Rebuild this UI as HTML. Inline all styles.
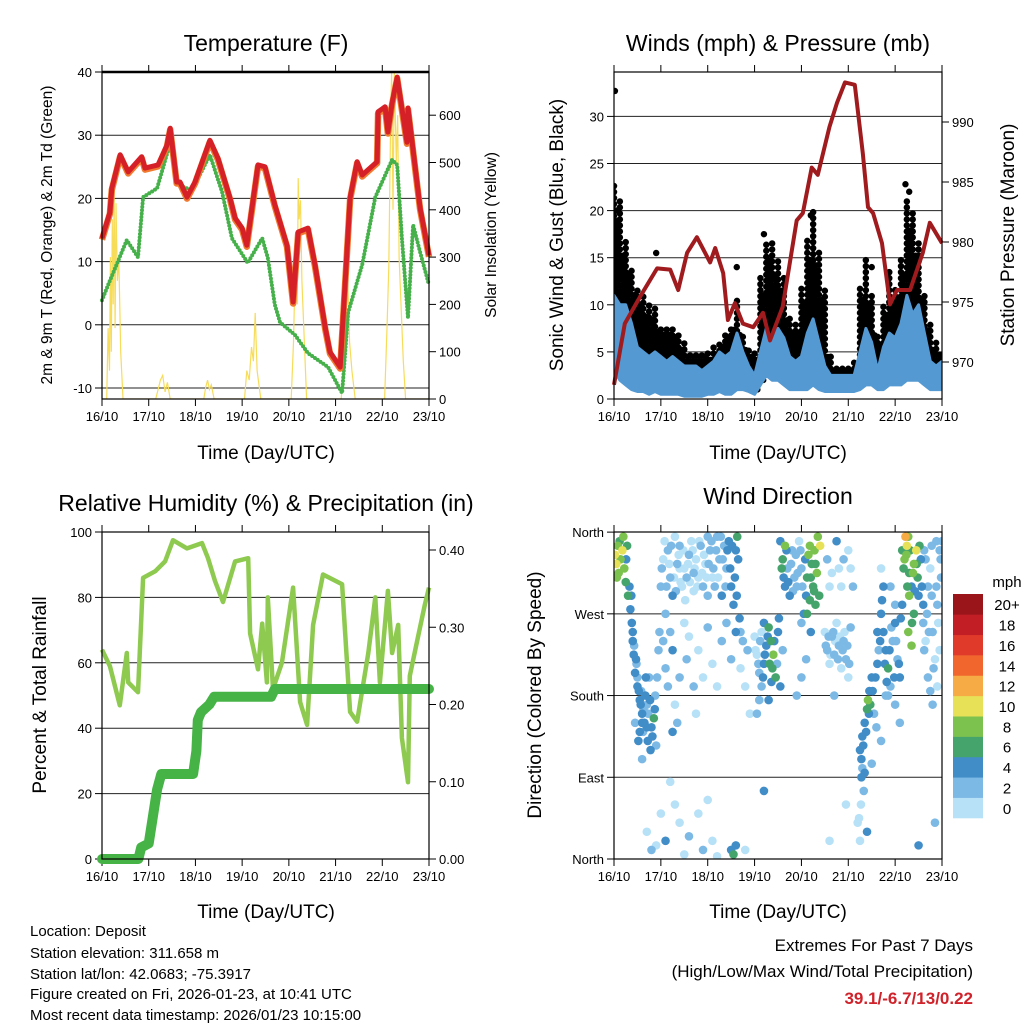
<!DOCTYPE html>
<html><head><meta charset="utf-8"><style>
html,body{margin:0;padding:0;background:#fff;}
svg{display:block;font-family:"Liberation Sans",Arial,sans-serif;}
</style></head><body>
<svg id="fig" width="1024" height="1024" viewBox="0 0 1024 1024" xmlns="http://www.w3.org/2000/svg">
<rect x="0" y="0" width="1024" height="1024" fill="#fff"/>
<text x="266" y="51" font-size="23" text-anchor="middle">Temperature (F)</text>
<text x="778" y="51" font-size="23" text-anchor="middle">Winds (mph) &amp; Pressure (mb)</text>
<text x="266" y="511" font-size="23" text-anchor="middle">Relative Humidity (%) &amp; Precipitation (in)</text>
<text x="778" y="504" font-size="23" text-anchor="middle">Wind Direction</text>
<text x="266" y="459" font-size="19" text-anchor="middle">Time (Day/UTC)</text>
<text x="778" y="459" font-size="19" text-anchor="middle">Time (Day/UTC)</text>
<text x="266" y="918" font-size="19" text-anchor="middle">Time (Day/UTC)</text>
<text x="778" y="918" font-size="19" text-anchor="middle">Time (Day/UTC)</text>
<text transform="translate(52,235) rotate(-90)" font-size="15.5" text-anchor="middle">2m &amp; 9m T (Red, Orange) &amp; 2m Td (Green)</text>
<text transform="translate(496,235) rotate(-90)" font-size="15.5" text-anchor="middle">Solar Insolation (Yellow)</text>
<text transform="translate(563,235) rotate(-90)" font-size="19" text-anchor="middle">Sonic Wind &amp; Gust (Blue, Black)</text>
<text transform="translate(1014,235) rotate(-90)" font-size="19" text-anchor="middle">Station Pressure (Maroon)</text>
<text transform="translate(46,695) rotate(-90)" font-size="19" text-anchor="middle">Percent &amp; Total Rainfall</text>
<text transform="translate(541,695) rotate(-90)" font-size="19" text-anchor="middle">Direction (Colored By Speed)</text>
<g font-size="15">
<text x="30" y="936">Location: Deposit</text>
<text x="30" y="958">Station elevation: 311.658 m</text>
<text x="30" y="979">Station lat/lon: 42.0683; -75.3917</text>
<text x="30" y="999">Figure created on Fri, 2026-01-23, at 10:41 UTC</text>
<text x="30" y="1020">Most recent data timestamp: 2026/01/23 10:15:00</text>
</g>
<text x="973" y="951" font-size="17" text-anchor="end">Extremes For Past 7 Days</text>
<text x="973" y="977" font-size="17" text-anchor="end">(High/Low/Max Wind/Total Precipitation)</text>
<text x="973" y="1004" font-size="17" font-weight="bold" fill="#d0222a" text-anchor="end">39.1/-6.7/13/0.22</text>
<text x="1007" y="587" font-size="15" text-anchor="middle">mph</text>
</svg>
<script>
// ---------- data ----------
const dayLabels = ['16/10','17/10','18/10','19/10','20/10','21/10','22/10','23/10'];
const tempTicks = [-10,0,10,20,30,40];
const solarTicks = [0,100,200,300,400,500,600];
const windTicks = [0,5,10,15,20,25,30];
const pressTicks = [970,975,980,985,990];
const rhTicks = [0,20,40,60,80,100];
const rainTicks = [0,0.1,0.2,0.3,0.4];
const dirTicks = [0,90,180,270,360];
const dirNames = ['North','East','South','West','North'];
const speedBins = ['0','2','4','6','8','10','12','14','16','18','20+'];
const speedColors = ['#b6e1f7','#7db9e5','#418dc8','#45a46c','#7cc24e','#e6e157','#f7ab45','#f0662d','#e03a2b','#c11e26','#991519'];

const tempTime = [0,0.17,0.21,0.39,0.56,0.85,0.92,1.2,1.39,1.46,1.6,1.67,1.82,1.99,2.31,2.48,2.74,2.85,3.0,3.1,3.21,3.34,3.49,3.7,3.96,4.09,4.2,4.41,4.56,4.78,4.88,5.1,5.31,5.46,5.57,5.89,5.91,6.06,6.12,6.21,6.32,6.53,6.55,6.81,7.0];
const tempValue = [13.7,17.8,21.6,26.9,24.2,26.6,24.8,25.3,28.4,31.1,22.6,22.6,20.2,22.6,29.2,26.4,20.1,16.9,15.3,12.6,18.5,25.3,25,19,12.6,3.6,14.7,15.3,9.5,-0.5,-4.3,-6.7,20.1,25.8,23.7,25.8,33.7,34.5,30.5,35.1,39.2,28.9,34.3,18.5,11];
const dewTime = [0,0.13,0.53,0.77,0.88,1.18,1.46,1.63,1.93,2.31,2.57,2.78,3.12,3.43,3.55,3.7,3.81,4.13,4.41,4.84,5.14,5.27,5.57,5.85,6.21,6.32,6.42,6.55,6.66,6.81,7.0];
const dewValue = [3.9,6.3,13.4,10.7,20.2,21.6,28.8,22.1,21.3,26.9,21,13.7,9.8,13.7,10.6,3.2,0.4,-1.6,-4.5,-6.7,-10.8,2,9.5,20.2,26.1,25.3,13.7,1.1,15.8,11.5,6.3];
const solarTime = [0,0.1,0.13,0.16,0.18,0.2,0.22,0.24,0.26,0.28,0.3,0.33,0.36,0.4,0.45,1.15,1.2,1.25,1.3,1.35,1.4,1.46,2.18,2.22,2.26,2.3,2.34,2.4,3.05,3.1,3.15,3.2,3.24,3.28,3.32,3.4,4.05,4.1,4.14,4.18,4.2,4.22,4.25,4.28,4.32,4.38,5.12,5.18,5.22,5.26,5.3,5.35,5.42,6.05,6.1,6.14,6.18,6.2,6.23,6.26,6.3,6.33,6.36,6.4,6.45,6.5,7.0];
const solarValue = [0,0,150,60,300,100,380,200,446,150,414,250,300,100,0,0,20,40,50,15,35,0,0,25,40,20,30,0,0,60,40,110,80,182,60,0,0,120,300,200,467,380,420,250,150,0,0,80,180,250,120,60,0,0,150,280,600,690,400,690,500,600,300,200,80,0,0];

const windHigh = [11,10,10,8,5.5,5,4.5,5,4.5,4,4.5,4,3.5,3.5,3.5,3,3.5,4,5,4.5,5,7,5,3.5,2.5,5,7.5,6,7.5,6.5,4.5,4,4.5,7,8.5,6,3.5,2.5,2.5,2.5,2.5,2.5,5,7.5,6,3,5.5,7,6.5,8,11,9,10,7,4,3.5,4];
const windLow = [3,2,1.5,1,0.8,0.8,0.5,0.8,0.5,0.5,0.5,0.5,0.3,0.3,0.3,0.3,0.5,0.5,0.8,0.5,0.5,1,1,0.8,0.5,1.5,2.5,2,2,1.5,1,1,1,1,1.5,1,0.8,0.8,0.8,0.8,0.8,0.8,1,1.5,1.5,1,1,1.5,1.5,1.5,2,2,2,1.5,1,1,1];
const gustHigh = [23,21,17,14,12,11,10,10,8,8,8,7,6,5,5,5,5,5.5,6,7,8,11,7,5.5,5,13,17,17,15,13,9,8,12,17,20,16,12,5,3.5,3.5,3.5,4,12,15,11,7,10,14,12,15,21,20,17,11,8,6,5];
const gustOutTime = [0.02,0.9,6.22,6.3,0.05,2.62,3.2,4.2,5.5];
const gustOutValue = [32.7,15.5,22.8,22,20,14,17.5,19.5,14];
const pressTime = [0,0.23,0.55,0.92,1.2,1.37,1.56,1.77,2.05,2.16,2.33,2.43,2.58,2.75,2.97,3.18,3.33,3.6,3.9,4.03,4.22,4.35,4.6,4.76,4.93,5.14,5.31,5.42,5.53,5.72,5.89,6.04,6.32,6.59,6.74,7.0];
const pressValue = [968.1,973.2,975.4,977.8,977.7,976,979.1,980.4,978.3,979.5,977.4,973.5,974.9,973.2,972.9,974.1,971.8,974.6,981.8,982.4,986.2,985.6,989.6,991.6,993.3,993.1,987.4,982.9,982.4,979.9,974.8,976,976,979.1,981.6,979.9];

const rhTime = [0,0.17,0.38,0.53,0.56,0.77,0.88,1.14,1.35,1.52,1.82,2.14,2.27,2.42,2.59,2.85,3.13,3.17,3.34,3.43,3.53,3.55,3.66,3.85,4.09,4.24,4.39,4.52,4.73,5.14,5.31,5.46,5.7,5.85,5.95,6.12,6.21,6.34,6.42,6.55,6.59,6.76,6.91,7.0];
const rhValue = [64,59,47,63,54,51,86,88,91,97.5,95,96.6,92,85,78.6,91,92,69,58,72,54,80,52,60,83,48,41,71.6,87,84,45,42,63,80,54,82,63,71.6,37,23.5,56,67.6,77.7,83];
const rainTime = [0,0.78,0.84,1.0,1.05,1.18,1.27,1.95,2.02,2.05,2.12,2.3,2.4,3.62,3.7,7.0];
const rainValue = [0,0,0.015,0.02,0.04,0.09,0.11,0.11,0.14,0.18,0.19,0.2,0.21,0.21,0.22,0.22];

const wdDay = [0.02,0.05,0.08,0.1,0.14,0.18,0.22,0.25,0.28,0.3,0.33,0.12,0.2,0.26,0.06,
0.38,0.4,0.42,0.45,0.5,0.55,0.6,0.62,0.65,0.7,0.72,0.75,0.8,0.85,0.9,0.48,0.58,0.68,0.78,0.88,0.95,0.52,0.6,
1.0,1.05,1.1,1.15,1.2,1.25,1.3,1.35,1.4,1.45,1.5,1.55,1.6,1.65,1.7,1.75,1.8,1.85,1.9,1.95,2.0,2.05,2.1,2.15,2.2,2.25,2.3,2.35,2.4,2.45,2.5,2.55,2.6,2.63,1.4,1.7,2.0,
1.05,1.1,1.15,1.2,1.25,1.3,1.4,1.5,1.55,1.6,1.7,1.75,1.8,1.9,2.0,2.1,2.2,2.3,2.4,2.5,2.6,2.7,2.8,2.85,2.9,1.35,1.25,
0.7,0.8,1.0,1.1,1.3,1.4,1.5,1.6,1.8,1.9,2.0,2.1,2.2,2.5,2.55,2.6,3.2,2.8,1.2,0.9,
3.0,3.05,3.1,3.15,3.2,3.25,3.3,3.35,3.38,3.4,3.45,3.5,3.55,3.3,3.2,3.1,3.05,3.6,
3.55,3.6,3.65,3.7,3.75,3.8,3.85,3.9,3.95,4.0,4.1,4.15,4.2,4.25,4.28,4.3,4.35,4.4,4.3,3.65,3.58,4.05,4.2,4.1,4.0,3.9,
4.5,4.55,4.6,4.65,4.7,4.75,4.8,4.85,4.9,4.95,5.0,5.05,4.6,4.8,5.0,4.7,4.9,5.1,4.75,
5.25,5.3,5.35,5.4,5.42,5.45,5.5,5.55,5.6,5.3,5.35,5.2,5.25,5.4,5.5,5.7,
5.7,5.75,5.8,5.85,5.9,5.95,6.0,6.05,6.1,6.15,5.8,6.1,6.0,5.65,5.7,5.75,
6.15,6.2,6.22,6.25,6.3,6.35,6.4,6.45,6.48,6.5,6.55,6.6,6.3,6.35,6.28,6.4,
6.6,6.65,6.7,6.75,6.8,6.85,6.9,6.95,6.98,6.9,6.7,6.5,6.85,6.8,6.95,7.0];
const wdDir = [335,325,345,315,330,340,320,305,345,290,300,350,355,330,310,
260,240,225,205,190,175,160,140,150,170,130,200,145,155,125,215,185,200,120,180,230,130,110,
300,330,270,340,310,290,355,325,345,300,320,310,335,350,295,330,310,345,300,325,355,340,310,300,355,330,290,345,320,350,300,280,340,355,320,315,290,
240,210,190,250,230,170,200,260,220,245,190,160,230,200,255,215,190,240,260,220,250,210,190,230,160,150,140,
30,10,50,20,60,40,5,25,50,10,65,20,3,10,5,15,75,10,85,15,
245,225,205,190,215,235,255,240,210,225,200,250,190,175,260,175,160,230,
350,330,300,320,290,340,310,300,350,320,290,335,310,300,340,325,355,345,280,345,320,270,250,220,200,180,
250,230,215,245,225,260,235,210,240,220,200,255,300,320,340,180,330,300,350,
120,135,150,165,175,185,200,160,145,100,95,40,20,30,105,130,
270,250,230,210,190,240,260,220,200,280,180,150,170,230,320,300,
340,330,355,345,315,300,325,340,310,290,330,280,290,235,250,270,
260,240,300,320,250,220,280,340,310,190,200,15,40,170,230,350];
const wdSpeed = [10,10,8,9,8,10,8,6,6,6,4,6,8,4,8,
4,4,4,4,4,4,4,2,4,2,4,2,4,6,2,2,2,4,4,2,2,4,2,
2,0,2,2,2,4,0,2,2,0,0,2,2,0,0,0,0,2,2,0,2,2,0,2,2,2,4,2,2,4,4,4,4,6,0,2,2,
2,2,2,2,4,0,2,0,2,0,2,0,0,0,2,0,0,2,2,2,4,0,0,2,0,2,4,
0,2,0,4,0,0,0,2,0,2,0,0,0,4,6,4,4,0,0,0,
0,0,2,2,4,4,6,6,6,8,6,4,4,4,4,2,2,2,
4,6,4,2,4,2,2,2,0,2,4,8,6,6,8,6,8,10,6,8,6,4,4,2,2,2,
0,2,0,2,2,0,2,0,2,2,0,2,0,0,0,2,2,2,4,
4,4,4,6,8,4,4,2,2,2,4,0,0,4,2,2,
4,4,4,6,2,2,4,2,4,4,2,2,2,2,0,4,
6,8,12,10,6,4,8,10,6,4,4,4,8,8,8,6,
2,0,2,0,2,0,2,2,2,0,2,4,2,2,0,2];
// additional wind direction observations
const wdDayB = [0.4,0.43,0.47,0.5,0.53,0.57,0.6,0.63,0.67,0.7,0.73,0.77,0.82,0.87,0.92,0.97,0.35,0.37,0.45,0.55,
1.02,1.08,1.12,1.18,1.22,1.28,1.32,1.38,1.42,1.48,1.52,1.58,1.62,1.68,1.72,1.78,1.82,1.88,1.92,1.98,2.02,2.08,2.12,2.18,2.22,2.28,2.32,2.38,2.42,2.48,2.52,2.58,2.62,2.65,2.68,2.7,2.75,
3.02,3.08,3.12,3.18,3.22,3.28,3.32,3.36,3.42,3.48,3.52,3.15,
3.62,3.68,3.72,3.78,3.82,3.88,3.92,3.98,4.02,4.08,4.12,4.18,4.22,4.27,4.33,4.38,4.12,4.18,4.0,
4.52,4.58,4.62,4.68,4.72,4.78,4.82,4.88,4.92,4.98,5.02,4.55,4.65,4.85,5.05,4.6,4.95,
5.28,5.32,5.38,5.44,5.47,5.52,5.58,5.62,5.28,5.33,5.23,5.27,
5.62,5.68,5.72,5.78,5.82,5.88,5.92,5.98,6.02,6.08,6.12,6.0,5.9,5.85,
6.18,6.24,6.26,6.32,6.38,6.42,6.46,6.52,6.57,6.62,6.28,6.36,
6.62,6.68,6.72,6.78,6.82,6.88,6.92,6.97,6.75,6.65,6.88,6.78];
const wdDirB = [250,235,220,200,185,170,150,165,180,145,160,175,135,165,200,250,275,290,150,140,
320,350,300,325,345,310,295,335,305,340,285,325,305,340,320,300,350,315,335,310,325,350,320,340,310,355,330,300,340,320,345,310,290,330,265,250,240,
230,215,240,200,225,245,215,195,240,215,265,250,
310,340,305,325,295,335,315,340,300,330,310,345,325,295,315,290,270,285,260,
235,245,225,250,240,220,245,230,250,235,215,330,315,300,320,20,60,
110,125,140,160,170,185,200,215,90,75,45,60,
250,240,285,215,195,230,255,200,240,215,265,280,300,180,
320,335,300,340,315,295,325,345,300,340,355,260,
230,270,250,290,210,300,260,330,185,330,350,345];
const wdSpeedB = [4,2,4,2,4,4,4,2,4,4,2,4,4,4,2,2,4,4,2,4,
2,0,2,0,2,0,2,0,0,0,0,0,0,0,0,0,0,0,0,0,2,2,2,2,0,2,2,2,4,4,4,4,4,4,4,2,2,
0,2,2,4,4,4,6,4,4,2,4,0,
4,4,4,2,2,2,2,2,2,4,6,8,6,6,8,6,6,6,2,
2,2,0,2,0,2,0,2,0,2,2,2,0,0,0,0,0,
4,4,4,4,6,4,4,4,4,2,0,0,
4,4,4,4,4,4,2,4,2,4,4,2,2,2,
6,8,6,6,8,4,6,6,4,2,8,6,
2,2,2,2,2,2,0,2,2,2,2,2];

// ---------- helpers ----------
const NS = 'http://www.w3.org/2000/svg';
const svg = document.getElementById('fig');
function mk(tag, attrs, parent) {
  const e = document.createElementNS(NS, tag);
  for (const k in attrs) e.setAttribute(k, attrs[k]);
  (parent || svg).appendChild(e);
  return e;
}
function panel(x0, x1, y0, y1) {
  return { x0, x1, y0, y1, x: d => x0 + d * (x1 - x0) / 7 };
}
const P1 = panel(102, 429, 72, 399);
const P2 = panel(614, 942, 72, 399);
const P3 = panel(102, 429, 532, 859);
const P4 = panel(614, 942, 532, 859);
const yTemp = t => 388 - (t + 10) * 6.32;
const ySolar = v => 399 - v * 0.473;
const yWind = v => 399 - v * 9.42;
const yPress = p => 362 - (p - 970) * 12;
const yRh = r => 859 - r * 3.27;
const yRain = r => 859 - r * 772.5;
const yDir = d => 859 - d * 0.908;

function pathFrom(P, times, vals, yf) {
  let s = '';
  for (let i = 0; i < times.length; i++) s += (i ? 'L' : 'M') + P.x(times[i]).toFixed(1) + ',' + yf(vals[i]).toFixed(1);
  return s;
}

[P1, P2, P3, P4].forEach(function (P, pi) {
  const g = mk('g', {});
  
  
  dayLabels.forEach(function (lab, i) {
    const x = P.x(i);
    const tb = mk('line', { x1: x, y1: P.y1, x2: x, y2: P.y1 + 7, stroke: '#000', 'stroke-width': 1 }, g);
    
    
    const tt = mk('line', { x1: x, y1: P.y0, x2: x, y2: P.y0 - 7, stroke: '#000', 'stroke-width': 1 }, g);
    
    
    const t = mk('text', { x: x, y: P.y1 + 22, 'font-size': 13, 'text-anchor': 'middle' }, g);
    t.textContent = lab;
    
    
  });
});

function gridAndTicks(P, ticks, yf, labels, side, gridOn, fmt) {
  const g = mk('g', {});
  
  
  ticks.forEach(function (v, i) {
    const y = yf(v);
    if (gridOn && y > P.y0 + 1 && y < P.y1 - 1) {
      const gl = mk('line', { x1: P.x0, y1: y, x2: P.x1, y2: y, stroke: '#222', 'stroke-width': 1 }, g);
      
      
    }
    const xa = side === 'left' ? P.x0 : P.x1;
    const dx = side === 'left' ? -7 : 7;
    const tk = mk('line', { x1: xa, y1: y, x2: xa + dx, y2: y, stroke: '#000', 'stroke-width': 1 }, g);
    
    
    const t = mk('text', { x: side === 'left' ? xa - 10 : xa + 10, y: y + 5, 'font-size': 13, 'text-anchor': side === 'left' ? 'end' : 'start' }, g);
    t.textContent = labels ? labels[i] : (fmt ? fmt(v) : String(v));
    
    
  });
}

// ---------- panel 1: temperature ----------
gridAndTicks(P1, tempTicks, yTemp, null, 'left', true);
gridAndTicks(P1, solarTicks, ySolar, null, 'right', false);
const clip1 = mk('clipPath', { id: 'c1' });
mk('rect', { x: P1.x0, y: P1.y0, width: P1.x1 - P1.x0, height: P1.y1 - P1.y0 }, clip1);
const solar = mk('path', { d: pathFrom(P1, solarTime, solarValue, ySolar), fill: 'none', stroke: '#f7dc5a', 'stroke-width': 1.2, 'clip-path': 'url(#c1)' });


const dew = mk('path', { d: pathFrom(P1, dewTime, dewValue, yTemp), fill: 'none', stroke: '#46b04a', 'stroke-width': 4, 'stroke-dasharray': '0 3.4', 'stroke-linecap': 'round', 'stroke-linejoin': 'round' });


const t9 = mk('path', { d: pathFrom(P1, tempTime, tempValue, yTemp), fill: 'none', stroke: '#f07a30', 'stroke-width': 6.5, 'stroke-linejoin': 'round', transform: 'translate(0,1.5)' });


const t2 = mk('path', { d: pathFrom(P1, tempTime, tempValue, yTemp), fill: 'none', stroke: '#d42026', 'stroke-width': 5, 'stroke-linejoin': 'round' });


const f1 = mk('rect', { x: P1.x0, y: P1.y0, width: P1.x1 - P1.x0, height: P1.y1 - P1.y0, fill: 'none', stroke: '#000', 'stroke-width': 1.2 });


const top1 = mk('line', { x1: P1.x0, y1: P1.y0, x2: P1.x1, y2: P1.y0, stroke: '#000', 'stroke-width': 2.5 });



// ---------- panel 2: winds ----------
gridAndTicks(P2, windTicks, yWind, null, 'left', true);
gridAndTicks(P2, pressTicks, yPress, null, 'right', false);
const clip2 = mk('clipPath', { id: 'c2' });
mk('rect', { x: P2.x0, y: P2.y0, width: P2.x1 - P2.x0, height: P2.y1 - P2.y0 }, clip2);
const gustG = mk('g', { 'clip-path': 'url(#c2)' });


const stepW = 7 / (gustHigh.length - 1);
gustHigh.forEach(function (v, i) {
  const x = P2.x(i * stepW);
  const col = mk('line', { x1: x, y1: yWind(windLow[i] + 0.5), x2: x, y2: yWind(v), stroke: '#000', 'stroke-width': 6.5, 'stroke-linecap': 'round', 'stroke-dasharray': '0 6' }, gustG);
  
  
  const nxt = i + 1 < gustHigh.length ? gustHigh[i + 1] : v;
  const mid = Math.min(v, nxt) * 0.8 + windHigh[i] * 0.2;
  const col2 = mk('line', { x1: x + 3, y1: yWind(windLow[i] + 0.5), x2: x + 3, y2: yWind(mid), stroke: '#000', 'stroke-width': 6, 'stroke-linecap': 'round', 'stroke-dasharray': '0 5' }, gustG);
  
  
});
gustOutTime.forEach(function (t, i) {
  const c = mk('circle', { cx: P2.x(t), cy: yWind(gustOutValue[i]), r: 3.2, fill: '#000' }, gustG);
  
  
});
let band = '';
windHigh.forEach(function (v, i) { band += (i ? 'L' : 'M') + P2.x(i * stepW).toFixed(1) + ',' + yWind(v).toFixed(1); });
for (let i = windLow.length - 1; i >= 0; i--) band += 'L' + P2.x(i * stepW).toFixed(1) + ',' + yWind(windLow[i]).toFixed(1);
const windBand = mk('path', { d: band + 'Z', fill: '#5499d2', stroke: '#5499d2', 'stroke-width': 3, 'stroke-linejoin': 'round', 'clip-path': 'url(#c2)' });


const press = mk('path', { d: pathFrom(P2, pressTime, pressValue, yPress), fill: 'none', stroke: '#a01b1e', 'stroke-width': 4, 'stroke-linejoin': 'round' });


const f2 = mk('rect', { x: P2.x0, y: P2.y0, width: P2.x1 - P2.x0, height: P2.y1 - P2.y0, fill: 'none', stroke: '#000', 'stroke-width': 1.2 });



// ---------- panel 3: humidity ----------
gridAndTicks(P3, rhTicks, yRh, null, 'left', true);
gridAndTicks(P3, rainTicks, yRain, null, 'right', false, v => v.toFixed(2));
const rh = mk('path', { d: pathFrom(P3, rhTime, rhValue, yRh), fill: 'none', stroke: '#8fca50', 'stroke-width': 4.5, 'stroke-linejoin': 'round' });


const rain = mk('path', { d: pathFrom(P3, rainTime, rainValue, yRain), fill: 'none', stroke: '#46b347', 'stroke-width': 10, 'stroke-linejoin': 'round', 'stroke-linecap': 'round' });


const f3 = mk('rect', { x: P3.x0, y: P3.y0, width: P3.x1 - P3.x0, height: P3.y1 - P3.y0, fill: 'none', stroke: '#000', 'stroke-width': 1.2 });



// ---------- panel 4: wind direction ----------
gridAndTicks(P4, dirTicks, yDir, dirNames, 'left', true);
function speedColor(s) {
  let k = Math.floor(s / 2);
  if (k > 10) k = 10;
  if (k < 0) k = 0;
  return speedColors[k];
}
const clip4 = mk('clipPath', { id: 'c4' });
mk('rect', { x: P4.x0, y: P4.y0 - 4, width: P4.x1 - P4.x0, height: P4.y1 - P4.y0 + 4 }, clip4);
const dirG = mk('g', { 'clip-path': 'url(#c4)' });


const allDay = wdDay.concat(wdDayB);
const allDir = wdDir.concat(wdDirB);
const allSpd = wdSpeed.concat(wdSpeedB);
const nPts = Math.min(allDay.length, allDir.length, allSpd.length);
const order = [];
for (let i = 0; i < nPts; i++) order.push(i);
order.sort((a, b) => allSpd[a] - allSpd[b]);
order.forEach(function (i) {
  const c = mk('circle', { cx: P4.x(allDay[i]), cy: yDir(allDir[i]), r: 4.3, fill: speedColor(allSpd[i]) }, dirG);
  
  
});
const f4 = mk('rect', { x: P4.x0, y: P4.y0, width: P4.x1 - P4.x0, height: P4.y1 - P4.y0, fill: 'none', stroke: '#000', 'stroke-width': 1.2 });



// colorbar
const cbG = mk('g', {});


const cbTop = 594, cbBot = 818, cbH = (cbBot - cbTop) / speedBins.length;
speedBins.forEach(function (lab, i) {
  const y = cbBot - (i + 1) * cbH;
  const r = mk('rect', { x: 953, y: y, width: 30, height: cbH + 0.3, fill: speedColors[i] }, cbG);
  
  
  const t = mk('text', { x: 1007, y: y + cbH / 2 + 6, 'font-size': 15, 'text-anchor': 'middle' }, cbG);
  t.textContent = lab;
  
  
});
</script>
</body></html>
